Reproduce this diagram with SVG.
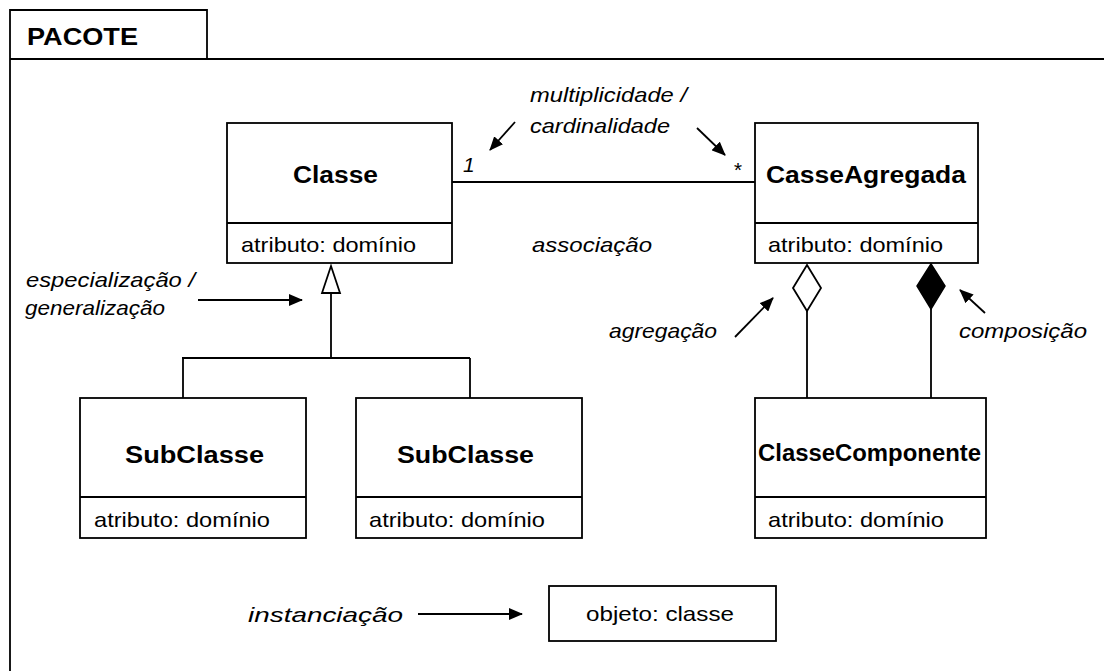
<svg xmlns="http://www.w3.org/2000/svg" width="1104" height="671" viewBox="0 0 1104 671">
<style>
.b{fill:#fff;stroke:#000;stroke-width:1.8}
.l{fill:none;stroke:#000;stroke-width:1.8}
.n{font-family:"Liberation Sans",Arial,sans-serif;font-weight:bold;font-size:23px;fill:#000}
.a{font-family:"Liberation Sans",Arial,sans-serif;font-size:21px;fill:#000}
.i{font-family:"Liberation Sans",Arial,sans-serif;font-style:italic;font-size:21px;fill:#000}
</style>
<defs>
<marker id="ah" markerUnits="userSpaceOnUse" markerWidth="14" markerHeight="12" viewBox="0 0 14 12" refX="13" refY="6" orient="auto">
<path d="M0,0 L14,6 L0,12 z" fill="#000"/>
</marker>
</defs>
<rect width="1104" height="671" fill="#fff"/>
<g id="package">
<path class="l" d="M10,671 V10 H207 V59 M10,59 H1104"/>
<text class="n" x="27" y="45" font-size="25" textLength="111" lengthAdjust="spacingAndGlyphs">PACOTE</text>
</g>
<g id="connectors">
<line class="l" x1="452" y1="182" x2="755" y2="182"/>
<path class="l" d="M331,293 V358 M182,358 H470 M183,358 V398 M470,358 V398"/>
<path class="b" d="M331,266 L340,293 L322,293 z"/>
<path class="l" d="M807,310 V398 M931,308 V398"/>
<path class="b" d="M807,265 L821,288 L807,311 L793,288 z"/>
<path d="M931,264 L945,286 L931,309 L917,286 z" fill="#000" stroke="#000" stroke-width="1.5"/>
<line class="l" x1="515" y1="122" x2="490" y2="150" marker-end="url(#ah)"/>
<line class="l" x1="697" y1="128" x2="725" y2="155" marker-end="url(#ah)"/>
<line class="l" x1="198" y1="300" x2="302" y2="300" marker-end="url(#ah)"/>
<line class="l" x1="735" y1="337" x2="773" y2="298" marker-end="url(#ah)"/>
<line class="l" x1="985" y1="313" x2="960" y2="290" marker-end="url(#ah)"/>
<line class="l" x1="418" y1="614" x2="522" y2="614" marker-end="url(#ah)"/>
<text class="i" x="463" y="172">1</text>
<text class="i" x="733" y="177">*</text>
<text class="i" x="530" y="102" textLength="157" lengthAdjust="spacingAndGlyphs">multiplicidade /</text>
<text class="i" x="530" y="133" textLength="140" lengthAdjust="spacingAndGlyphs">cardinalidade</text>
<text class="i" x="532" y="252" textLength="120" lengthAdjust="spacingAndGlyphs">associação</text>
<text class="i" x="26" y="287" textLength="169" lengthAdjust="spacingAndGlyphs">especialização /</text>
<text class="i" x="25" y="315" textLength="140" lengthAdjust="spacingAndGlyphs">generalização</text>
<text class="i" x="609" y="338" textLength="108" lengthAdjust="spacingAndGlyphs">agregação</text>
<text class="i" x="959" y="338" textLength="128" lengthAdjust="spacingAndGlyphs">composição</text>
<text class="i" x="248" y="622" font-size="23" textLength="155" lengthAdjust="spacingAndGlyphs">instanciação</text>
</g>
<g id="classe">
<rect class="b" x="227" y="123" width="225" height="140"/>
<line class="l" x1="227" y1="223" x2="452" y2="223"/>
<text class="n" x="293" y="183" textLength="85" lengthAdjust="spacingAndGlyphs">Classe</text>
<text class="a" x="241" y="252" textLength="175" lengthAdjust="spacingAndGlyphs">atributo: domínio</text>
</g>
<g id="casseagregada">
<rect class="b" x="755" y="123" width="223" height="140"/>
<line class="l" x1="755" y1="223" x2="978" y2="223"/>
<text class="n" x="766" y="183" textLength="200" lengthAdjust="spacingAndGlyphs">CasseAgregada</text>
<text class="a" x="768" y="252" textLength="175" lengthAdjust="spacingAndGlyphs">atributo: domínio</text>
</g>
<g id="subclasse1">
<rect class="b" x="80" y="398" width="226" height="140"/>
<line class="l" x1="80" y1="497" x2="306" y2="497"/>
<text class="n" x="125" y="463" textLength="139" lengthAdjust="spacingAndGlyphs">SubClasse</text>
<text class="a" x="94" y="527" textLength="176" lengthAdjust="spacingAndGlyphs">atributo: domínio</text>
</g>
<g id="subclasse2">
<rect class="b" x="356" y="398" width="226" height="140"/>
<line class="l" x1="356" y1="497" x2="582" y2="497"/>
<text class="n" x="397" y="463" textLength="137" lengthAdjust="spacingAndGlyphs">SubClasse</text>
<text class="a" x="369" y="527" textLength="176" lengthAdjust="spacingAndGlyphs">atributo: domínio</text>
</g>
<g id="classecomponente">
<rect class="b" x="755" y="398" width="231" height="140"/>
<line class="l" x1="755" y1="497" x2="986" y2="497"/>
<text class="n" x="758" y="461" textLength="223" lengthAdjust="spacingAndGlyphs">ClasseComponente</text>
<text class="a" x="768" y="527" textLength="176" lengthAdjust="spacingAndGlyphs">atributo: domínio</text>
</g>
<g id="objeto">
<rect class="b" x="549" y="586" width="227" height="55"/>
<text class="a" x="586" y="621" textLength="148" lengthAdjust="spacingAndGlyphs">objeto: classe</text>
</g>
</svg>
